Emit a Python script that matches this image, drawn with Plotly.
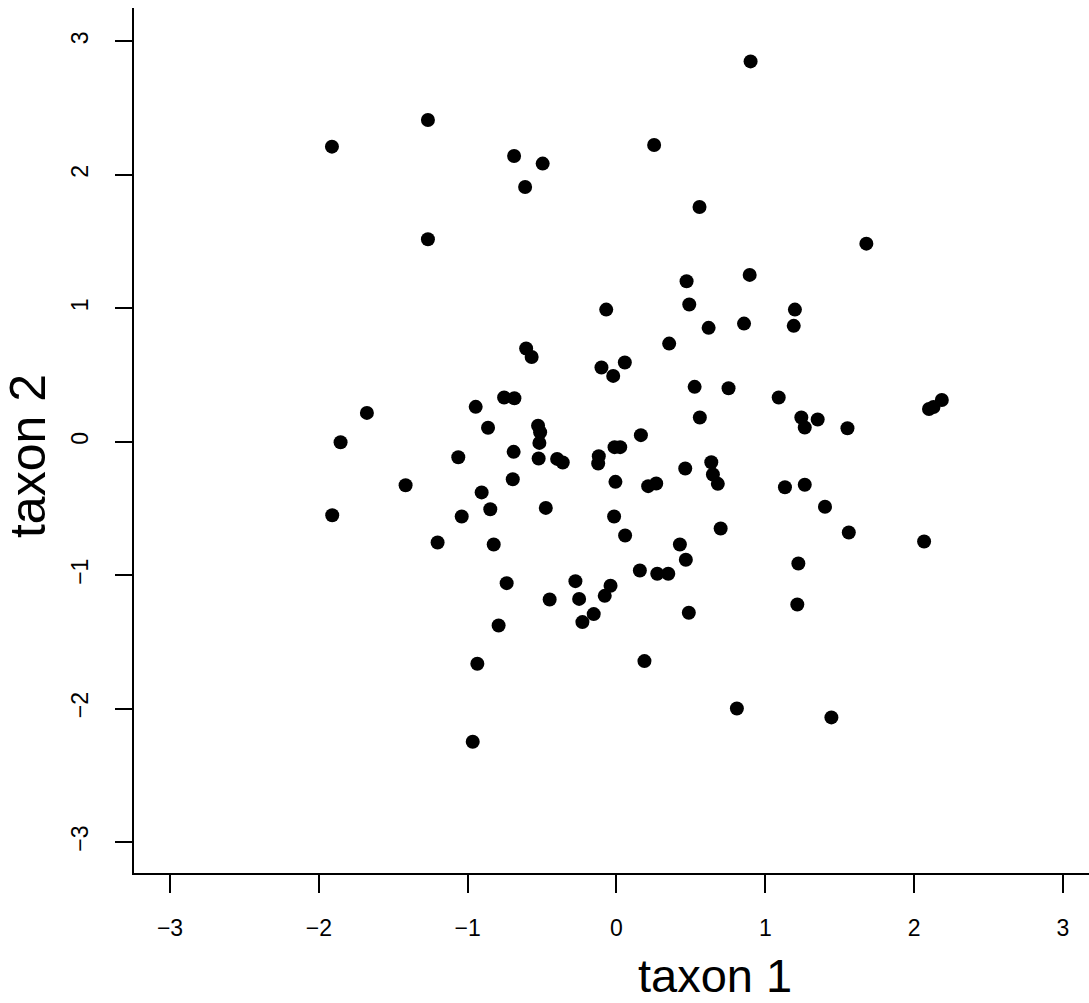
import plotly.graph_objects as go

# Data
taxon1 = [
    -1.912, -1.267, -0.688, -0.496, -0.614, 0.253, 0.558, -1.267, 0.471, 0.489,
    -0.069, 0.901, 1.679, 0.895, 1.199, 0.354, -0.607, -0.570, -0.101, 0.056,
    -0.022, 0.525, 0.560, -1.677, -1.854, -0.946, -0.755, -0.686, -0.863, -0.527,
    -0.513, -0.518, -0.691, -0.523, -0.399, -0.361, -1.063, -0.119, -0.123, -0.013,
    0.025, 0.164, 0.462, -0.697, -1.417, -0.906, -0.007, 0.213, 0.267, -0.848,
    -0.475, -1.910, -1.040, -0.016, 0.058, -1.202, -0.825, 0.426, 1.191, 0.857,
    0.619, 0.753, 1.090, 2.186, 2.100, 2.130, 1.242, 1.352, 1.265, 1.552,
    0.637, 0.648, 0.681, 1.132, 1.265, 1.401, 0.700, 1.561, 2.067, 0.466,
    0.157, 0.274, 0.348, -0.738, -0.276, -0.040, -0.079, -0.449, -0.251, -0.153,
    -0.229, 0.486, -0.792, -0.935, 0.188, -0.966, 1.222, 1.215, 0.809, 1.444,
]
taxon2 = [
    2.211, 2.411, 2.141, 2.084, 1.909, 2.223, 1.759, 1.517, 1.202, 1.028,
    0.990, 2.850, 1.484, 1.250, 0.990, 0.735, 0.698, 0.635, 0.556, 0.593,
    0.493, 0.411, 0.181, 0.216, -0.004, 0.261, 0.331, 0.326, 0.104, 0.119,
    0.071, -0.009, -0.076, -0.126, -0.129, -0.156, -0.116, -0.109, -0.163, -0.041,
    -0.041, 0.049, -0.201, -0.281, -0.326, -0.380, -0.301, -0.333, -0.313, -0.506,
    -0.496, -0.551, -0.561, -0.561, -0.703, -0.755, -0.770, -0.770, 0.868, 0.885,
    0.853, 0.401, 0.331, 0.313, 0.245, 0.260, 0.181, 0.166, 0.106, 0.101,
    -0.154, -0.246, -0.316, -0.341, -0.323, -0.488, -0.650, -0.680, -0.748, -0.885,
    -0.965, -0.990, -0.990, -1.060, -1.045, -1.080, -1.155, -1.182, -1.178, -1.292,
    -1.352, -1.282, -1.377, -1.664, -1.644, -2.249, -0.913, -1.220, -1.999, -2.066,
]
tick_values = [-3, -2, -1, 0, 1, 2, 3]
x_label = "taxon 1"
y_label = "taxon 2"

FONT = "Liberation Sans, Arial, Helvetica, sans-serif"

fig = go.Figure(
    go.Scatter(
        x=taxon1, y=taxon2, mode="markers",
        marker=dict(size=14, color="black", line=dict(width=0)),
        hoverinfo="x+y",
    )
)

axis_common = dict(
    showgrid=False, zeroline=False, showline=True, linecolor="black", linewidth=2,
    ticks="outside", tickcolor="black", tickwidth=1.5,
    tickvals=tick_values, tickfont=dict(family=FONT, size=23, color="black"),
    mirror=False, fixedrange=True,
)

fig.update_layout(
    width=1089, height=1003,
    margin=dict(l=134, r=0, t=8, b=130),
    paper_bgcolor="white", plot_bgcolor="white",
    showlegend=False,
    xaxis=dict(range=[-3.242, 3.175], ticklen=18, ticklabelstandoff=15, **axis_common),
    yaxis=dict(range=[-3.232, 3.250], ticklen=17, tickangle=-90, ticklabelstandoff=18, **axis_common),
    annotations=[
        dict(text=x_label, xref="paper", yref="paper", x=0.6084, y=-0.119,
             xanchor="center", yanchor="middle", showarrow=False,
             font=dict(family=FONT, size=47, color="black")),
        dict(text=y_label, xref="paper", yref="paper", x=-0.111, y=0.482,
             xanchor="center", yanchor="middle", textangle=-90, showarrow=False,
             font=dict(family=FONT, size=50, color="black")),
    ],
)

fig.write_html(
    "out.html",
    config={"displayModeBar": False},
    post_script="document.body.style.margin='0';document.body.style.overflow='hidden';",
)
